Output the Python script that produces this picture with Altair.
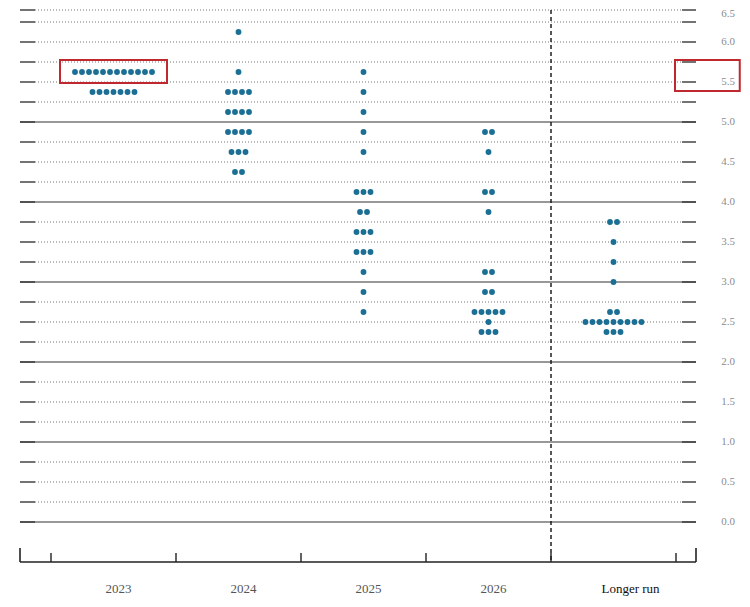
import altair as alt
import pandas as pd

# ---------------- data ----------------
categories = ["2023", "2024", "2025", "2026", "Longer run"]

rates_2023 = [5.625, 5.375]
counts_2023 = [12, 7]

rates_2024 = [6.125, 5.625, 5.375, 5.125, 4.875, 4.625, 4.375]
counts_2024 = [1, 1, 4, 4, 4, 3, 2]

rates_2025 = [5.625, 5.375, 5.125, 4.875, 4.625, 4.125, 3.875, 3.625, 3.375, 3.125, 2.875, 2.625]
counts_2025 = [1, 1, 1, 1, 1, 3, 2, 3, 3, 1, 1, 1]

rates_2026 = [4.875, 4.625, 4.125, 3.875, 3.125, 2.875, 2.625, 2.5, 2.375]
counts_2026 = [2, 1, 2, 1, 2, 2, 5, 1, 3]

rates_lr = [3.75, 3.5, 3.25, 3.0, 2.625, 2.5, 2.375]
counts_lr = [2, 1, 1, 1, 2, 9, 3]

grid_values = [i * 0.25 for i in range(27)]          # 0.0 .. 6.5
solid_values = [0, 1, 2, 3, 4, 5]
label_values = [i * 0.5 for i in range(13)]          # 0.0 .. 6.0
top_label = [6.5]
band_edges = [-0.5, 0.5, 1.5, 2.5, 3.5, 4.5]

# highlight boxes (x in category units, y in percent)
box_x = [-0.428, 4.492]
box_x2 = [0.428, 5.01]
box_y = [5.775, 5.775]
box_y2 = [5.4875, 5.3875]

# ---------------- build tables ----------------
all_rates = [rates_2023, rates_2024, rates_2025, rates_2026, rates_lr]
all_counts = [counts_2023, counts_2024, counts_2025, counts_2026, counts_lr]
SPACING = 0.056
rows = []
for ci, (rs, cs) in enumerate(zip(all_rates, all_counts)):
    for r, n in zip(rs, cs):
        for k in range(n):
            rows.append({"cat": categories[ci], "x": ci + (k - (n - 1) / 2) * SPACING, "rate": r})
dots = pd.DataFrame(rows)

dotted_df = pd.DataFrame({"rate": [v for v in grid_values if v not in solid_values]})
ticks_df = pd.DataFrame({"rate": grid_values})
solid_df = pd.DataFrame({"rate": solid_values})
labels_df = pd.DataFrame({"rate": label_values, "txt": [f"{v:.1f}" for v in label_values]})
top_df = pd.DataFrame({"rate": top_label, "txt": [f"{v:.1f}" for v in top_label]})
edges_df = pd.DataFrame({"b": band_edges, "y0": [-0.5] * 6, "y1": [-0.3875] * 6})
dash_df = pd.DataFrame({"b": [3.5], "y0": [6.5], "y1": [-0.5]})
axis_df = pd.DataFrame({"rate": [-0.5]})
XMIN, XMAX = -0.748, 4.66
end_df = pd.DataFrame({"b": [XMIN, XMAX], "y0": [-0.5, -0.5], "y1": [-0.325, -0.325]})
years_df = pd.DataFrame({"i": [0, 1, 2, 3], "lab": categories[:4], "y": [-0.8375] * 4})
lr_df = pd.DataFrame({"i": [4], "lab": [categories[4]], "y": [-0.8375]})
box_df = pd.DataFrame({"x": box_x, "x2": box_x2, "y": box_y, "y2": box_y2})

# ---------------- scales ----------------
W, H = 676, 588
xs = alt.Scale(domain=[XMIN, XMAX], nice=False, zero=False)
ys = alt.Scale(domain=[-0.95, 6.4], nice=False, zero=False, clamp=True)

def Y(f):
    return alt.Y(f, scale=ys, axis=None)

def X(f):
    return alt.X(f, scale=xs, axis=None)

dotted = alt.Chart(dotted_df).mark_rule(color="#777", strokeDash=[1, 2], strokeWidth=1).encode(
    x=alt.value(15), x2=alt.value(662), y=Y("rate:Q"))
lticks = alt.Chart(ticks_df).mark_rule(color="#444", strokeWidth=1.5).encode(
    x=alt.value(0), x2=alt.value(15), y=Y("rate:Q"))
rticks = alt.Chart(ticks_df).mark_rule(color="#444", strokeWidth=1.5).encode(
    x=alt.value(662), x2=alt.value(676), y=Y("rate:Q"))
solid = alt.Chart(solid_df).mark_rule(color="#333", strokeWidth=1.2).encode(
    x=alt.value(0), x2=alt.value(676), y=Y("rate:Q"))
dashed = alt.Chart(dash_df).mark_rule(color="#111", strokeDash=[4, 3], strokeWidth=1.4).encode(
    x=X("b:Q"), y=Y("y0:Q"), y2="y1:Q")
baseline = alt.Chart(axis_df).mark_rule(color="#222", strokeWidth=1.3).encode(
    x=alt.value(0), x2=alt.value(676), y=Y("rate:Q"))
sticks = alt.Chart(edges_df).mark_rule(color="#222", strokeWidth=1.4).encode(
    x=X("b:Q"), y=Y("y0:Q"), y2="y1:Q")
eticks = alt.Chart(end_df).mark_rule(color="#222", strokeWidth=1.6).encode(
    x=X("b:Q"), y=Y("y0:Q"), y2="y1:Q")
points = alt.Chart(dots).mark_circle(size=34, color="#1b6f94", opacity=1).encode(
    x=X("x:Q"), y=Y("rate:Q"))
rlabels = alt.Chart(labels_df).mark_text(font="Liberation Serif", fontSize=11, color="#8c8c8c",
                                          align="center", baseline="middle").encode(
    x=alt.value(708), y=Y("rate:Q"), text="txt:N")
tlabel = alt.Chart(top_df).mark_text(font="Liberation Serif", fontSize=11, color="#8c8c8c",
                                      align="center", baseline="top", dy=-2).encode(
    x=alt.value(708), y=Y("rate:Q"), text="txt:N")
ylabels = alt.Chart(years_df).mark_text(font="Liberation Serif", fontSize=13, color="#555",
                                         align="center", baseline="middle", dx=5).encode(
    x=X("i:Q"), y=Y("y:Q"), text="lab:N")
lrlabel = alt.Chart(lr_df).mark_text(font="Liberation Serif", fontSize=13, color="#111",
                                      align="center", baseline="middle", dx=17).encode(
    x=X("i:Q"), y=Y("y:Q"), text="lab:N")
boxes = alt.Chart(box_df).mark_rect(filled=False, stroke="#c0282f", strokeWidth=2).encode(
    x=X("x:Q"), x2="x2:Q", y=Y("y:Q"), y2="y2:Q")

chart = alt.layer(
    dotted, lticks, rticks, solid, dashed, baseline, sticks, eticks,
    points, rlabels, tlabel, ylabels, lrlabel, boxes
).properties(
    width=W, height=H,
    autosize=alt.AutoSizeParams(type="none"),
    padding={"left": 12, "top": 2, "right": 46, "bottom": 0},
    background="white",
).configure_view(stroke=None)

chart.save("out.html", embed_options={"renderer": "svg", "actions": False})
